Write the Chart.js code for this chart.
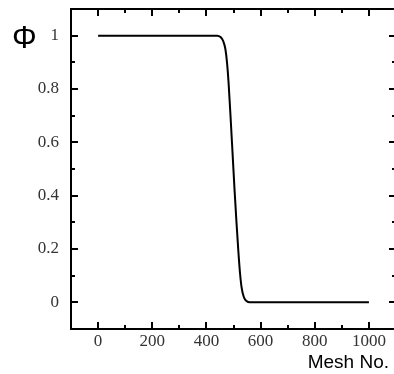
<!DOCTYPE html>
<html>
<head>
<meta charset="utf-8">
<script src="https://cdn.jsdelivr.net/npm/chart.js@4"></script>
<style>
  html, body { margin: 0; padding: 0; background: #fff; overflow: hidden; }
  #wrap { width: 394px; height: 374px; overflow: hidden; }
</style>
</head>
<body>
<div id="wrap"><canvas id="chartjs-0" width="396" height="374"></canvas></div>
<script>
// mesh index vs order parameter
var meshNo = [0, 200, 400, 440, 452, 462, 470, 476, 482, 490, 497, 504, 511, 518, 524, 530, 538, 548, 560, 600, 800, 1000];
var phi = [1, 1, 1, 1, 0.995, 0.98, 0.95, 0.9, 0.82, 0.68, 0.55, 0.42, 0.3, 0.19, 0.11, 0.055, 0.02, 0.005, 0, 0, 0, 0];

var xTicks = [0, 200, 400, 600, 800, 1000];
var xMinor = [-100, 100, 300, 500, 700, 900, 1100];
var yTicks = [0, 0.2, 0.4, 0.6, 0.8, 1];
var yMinor = [-0.1, 0.1, 0.3, 0.5, 0.7, 0.9, 1.1];

var points = [];
for (i = 0; i < meshNo.length; i++) {
  points.push({ x: meshNo[i], y: phi[i] });
}

/* frame with inward ticks on all four sides + the two labels */
var framePlugin = {
  id: "frame",
  afterDraw: function (chart) {
    var c = chart.ctx;
    var a = chart.chartArea;
    var xs = chart.scales.x;
    var ys = chart.scales.y;
    c.save();
    c.strokeStyle = "#000";
    c.lineWidth = 2;
    c.strokeRect(a.left, a.top, a.right - a.left, a.bottom - a.top);
    c.beginPath();
    function xt(v, len) {
      var p = Math.round(xs.getPixelForValue(v));
      c.moveTo(p, a.bottom); c.lineTo(p, a.bottom - len);
      c.moveTo(p, a.top); c.lineTo(p, a.top + len);
    }
    function yt(v, len) {
      var p = Math.round(ys.getPixelForValue(v));
      c.moveTo(a.left, p); c.lineTo(a.left + len, p);
      c.moveTo(a.right, p); c.lineTo(a.right - len, p);
    }
    xTicks.forEach(function (v) { xt(v, 7); });
    xMinor.forEach(function (v) { xt(v, 4); });
    yTicks.forEach(function (v) { yt(v, 7); });
    yMinor.forEach(function (v) { yt(v, 4); });
    c.stroke();

    c.fillStyle = "#000";
    c.font = "31px 'Liberation Sans'";
    c.textAlign = "left";
    c.textBaseline = "middle";
    c.fillText("\u03A6", 12, 39);
    c.font = "19px 'Liberation Sans'";
    c.textAlign = "right";
    c.textBaseline = "alphabetic";
    c.fillText("Mesh No.", 389, 368);
    c.restore();
  },
};

var ctx = document.getElementById("chartjs-0");

var myChart = new Chart(ctx, {
  type: "line",
  data: {
    datasets: [
      {
        data: points,
        borderColor: "#000",
        borderWidth: 2,
        pointRadius: 0,
        fill: false,
        cubicInterpolationMode: "monotone",
      },
    ],
  },
  options: {
    responsive: false,
    animation: false,
    layout: { padding: { top: 9, right: 0, left: 0, bottom: 0 } },
    plugins: { legend: { display: false }, tooltip: { enabled: false } },
    scales: {
      x: {
        type: "linear",
        min: -100,
        max: 1100,
        grid: { display: false },
        border: { display: false },
        afterBuildTicks: function (s) {
          s.ticks = xTicks.map(function (v) { return { value: v }; });
        },
        afterFit: function (s) {
          s.height = 45;
          s.paddingLeft = 0;
          s.paddingRight = 0;
        },
        ticks: {
          color: "#333",
          padding: -6,
          maxRotation: 0,
          font: { family: "'Liberation Serif'", size: 17 },
          callback: function (v) { return String(v); },
        },
      },
      y: {
        min: -0.1,
        max: 1.1,
        grid: { display: false },
        border: { display: false },
        afterBuildTicks: function (s) {
          s.ticks = yTicks.map(function (v) { return { value: v }; });
        },
        afterFit: function (s) {
          s.width = 71;
          s.paddingTop = 0;
          s.paddingBottom = 0;
        },
        ticks: {
          color: "#333",
          padding: 4,
          font: { family: "'Liberation Serif'", size: 17 },
          callback: function (v) { return String(Math.round(v * 10) / 10); },
        },
      },
    },
  },
  plugins: [framePlugin],
});
</script>
</body>
</html>
